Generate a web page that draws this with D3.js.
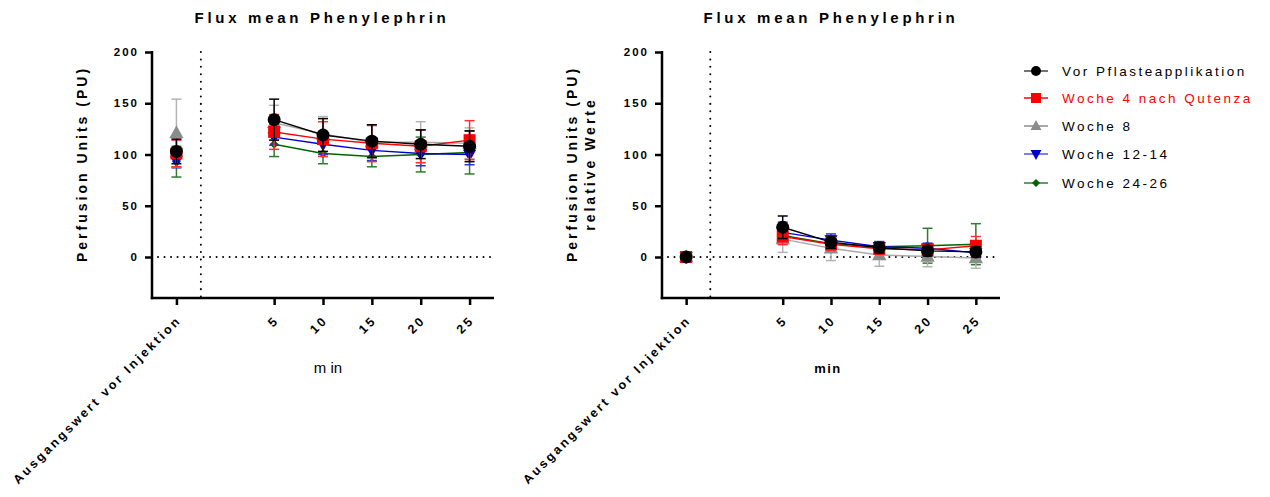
<!DOCTYPE html>
<html><head><meta charset="utf-8">
<script src="https://cdn.jsdelivr.net/npm/d3@7/dist/d3.min.js"></script>
<style>
body{margin:0;background:#fff;}
text{font-family:"Liberation Sans",Arial,sans-serif;}
</style></head>
<body><svg id="c" width="1270" height="497"></svg>
<script>
// ---- data ----
const xValues = [-5, 5, 10, 15, 20, 25];
const xLabels = ["Ausgangswert vor Injektion", "5", "10", "15", "20", "25"];
const yTicks = [0, 50, 100, 150, 200];
const seriesNames = ["Vor Pflasteapplikation", "Woche 4 nach Qutenza", "Woche 8", "Woche 12-14", "Woche 24-26"];
const seriesColors = ["#000000", "#ff0000", "#8c8c8c", "#0000cc", "#006400"];
const errColors = ["#000000", "#ff3030", "#b4b4b4", "#3030dd", "#2e7d2e"];
const seriesSymbols = ["circle", "square", "triangle", "triangleDown", "diamond"];

// Left chart: absolute values (mean) and SD
const absMean = [
  [103, 134, 119, 113, 110, 108],
  [101, 122, 115, 111, 108, 114],
  [121, 131, 120, 112, 112, 111],
  [94, 117, 110, 104, 101, 100],
  [93, 110, 101, 98, 100, 102]
];
const absSD = [
  [12, 20, 16, 16, 14, 15],
  [13, 17, 17, 18, 16, 19],
  [33, 17, 17, 16, 20, 15],
  [7, 8, 10, 10, 12, 10],
  [15, 12, 10, 10, 17, 21]
];
// Right chart: relative values
const relMean = [
  [0, 29, 14.5, 9, 6, 5],
  [0, 20, 12.5, 8, 7, 11],
  [0, 17.5, 8.5, 2, 0.5, -1],
  [0, 24, 16.5, 10, 8.5, 4],
  [0, 21, 13, 10, 11, 12.5]
];
const relSD = [
  [0, 11, 6, 5, 5, 5],
  [0, 8, 6, 5, 5, 9],
  [0, 13, 12, 11, 10, 10],
  [0, 10, 6, 5, 5, 5],
  [0, 8, 6, 5, 17, 20]
];

const svg = d3.select("#c");

function symbolPath(type, size) {
  const s = size;
  if (type === "circle") return d3.symbol(d3.symbolCircle, s * s * Math.PI / 4)();
  if (type === "square") return d3.symbol(d3.symbolSquare, s * s)();
  if (type === "diamond") return `M0,${-s/2}L${s/2},0L0,${s/2}L${-s/2},0Z`;
  if (type === "triangle") return `M0,${-s*0.6}L${s*0.55},${s*0.4}L${-s*0.55},${s*0.4}Z`;
  if (type === "triangleDown") return `M0,${s*0.6}L${s*0.55},${-s*0.4}L${-s*0.55},${-s*0.4}Z`;
}
const symSize = {circle: 13, square: 12, triangle: 13, triangleDown: 12, diamond: 9};

function drawChart(opt) {
  const g = svg.append("g");
  const x = d3.scaleLinear().domain([-7.5, 27.5]).range([opt.x0, opt.x1]);
  const y = d3.scaleLinear().domain([-40, 200]).range([298, 52]);

  // dotted reference lines
  g.append("line").attr("x1", x(-7.5) + 6).attr("x2", x(27.5)).attr("y1", y(0)).attr("y2", y(0))
    .attr("stroke", "#000").attr("stroke-width", 2).attr("stroke-dasharray", "0.01,6.5").attr("stroke-linecap", "round");
  g.append("line").attr("x1", x(-2.5)).attr("x2", x(-2.5)).attr("y1", y(200)).attr("y2", y(-40))
    .attr("stroke", "#000").attr("stroke-width", 2).attr("stroke-dasharray", "0.01,7.4").attr("stroke-linecap", "round");

  // y axis
  const ya = g.append("g").attr("transform", `translate(${opt.x0},0)`)
    .call(d3.axisLeft(y).tickValues(yTicks).tickSize(7).tickSizeOuter(0).tickPadding(6));
  ya.select(".domain").attr("stroke-width", 2.5).attr("d", `M0,${y(200) - 1}V${y(-40) + 1.25}`);
  ya.selectAll(".tick line").attr("stroke-width", 2.5);
  ya.selectAll(".tick text").attr("font-size", 11.5).attr("font-weight", "bold")
    .attr("letter-spacing", "2px").attr("font-family", "Liberation Sans, Arial, sans-serif").attr("fill", "#000");

  // x axis
  const xa = g.append("g").attr("transform", `translate(0,298)`)
    .call(d3.axisBottom(x).tickValues(xValues).tickSize(7).tickSizeOuter(0).tickFormat((d, i) => xLabels[i]));
  xa.select(".domain").attr("stroke-width", 2.5).attr("d", `M${opt.x0 - 1.25},0H${opt.x1}`);
  xa.selectAll(".tick line").attr("stroke-width", 2.5);
  xa.selectAll(".tick text").attr("font-size", 12.5).attr("font-weight", "bold")
    .attr("letter-spacing", "2.6px").attr("font-family", "Liberation Sans, Arial, sans-serif").attr("fill", "#000")
    .attr("text-anchor", "end").attr("dy", null).attr("y", 0)
    .attr("transform", "translate(5,23) rotate(-45)");

  // series (draw last series first so black is on top)
  for (let si = seriesNames.length - 1; si >= 0; si--) {
    const mean = opt.mean[si], sd = opt.sd[si];
    const pts = xValues.map((xv, i) => ({x: xv, y: mean[i], sd: sd[i]}));
    const sg = g.append("g");
    // error bars
    pts.forEach(p => {
      if (p.sd <= 0) return;
      const cx = x(p.x);
      sg.append("line").attr("x1", cx).attr("x2", cx).attr("y1", y(p.y + p.sd)).attr("y2", y(p.y - p.sd))
        .attr("stroke", errColors[si]).attr("stroke-width", 1.5);
      [p.y + p.sd, p.y - p.sd].forEach(v => {
        sg.append("line").attr("x1", cx - 5).attr("x2", cx + 5).attr("y1", y(v)).attr("y2", y(v))
          .attr("stroke", errColors[si]).attr("stroke-width", 1.5);
      });
    });
    // connecting line (time points only)
    const line = d3.line().x(d => x(d.x)).y(d => y(d.y));
    sg.append("path").datum(pts.slice(1)).attr("d", line).attr("fill", "none")
      .attr("stroke", si === 2 ? "#aaaaaa" : seriesColors[si]).attr("stroke-width", 1.4);
    // markers
    pts.forEach(p => {
      sg.append("path").attr("d", symbolPath(seriesSymbols[si], symSize[seriesSymbols[si]]))
        .attr("transform", `translate(${x(p.x)},${y(p.y)})`).attr("fill", seriesColors[si]);
    });
  }

  // titles
  g.append("text").attr("x", opt.titleX).attr("y", 23).attr("text-anchor", "middle")
    .attr("font-size", 15).attr("font-weight", "bold").attr("letter-spacing", "3.7px").text("Flux mean Phenylephrin");
  opt.yTitle.forEach((t, i) => {
    g.append("text").attr("transform", `translate(${opt.yTitleX + i * 18},164) rotate(-90)`).attr("text-anchor", "middle")
      .attr("font-size", 14).attr("font-weight", "bold").attr("letter-spacing", "3px").text(t);
  });
  g.append("text").attr("x", opt.minX).attr("y", 373).attr("text-anchor", "middle")
    .attr("font-size", opt.minBold ? 13 : 15).attr("font-weight", opt.minBold ? "bold" : "normal")
    .attr("letter-spacing", opt.minBold ? "1.5px" : "0px").text(opt.minText);
}

drawChart({x0: 152, x1: 494, mean: absMean, sd: absSD, titleX: 322, yTitle: ["Perfusion Units (PU)"], yTitleX: 87,
  minX: 328, minText: "m in", minBold: false});
drawChart({x0: 662, x1: 1000, mean: relMean, sd: relSD, titleX: 831, yTitle: ["Perfusion Units (PU)", "relative Werte"], yTitleX: 577,
  minX: 828, minText: "min", minBold: true});

// legend
const legY = [71, 98, 126, 154, 183];
const leg = svg.append("g");
const legLineColors = ["#444444", "#ff0000", "#8c8c8c", "#5555ee", "#2e7d2e"];
seriesNames.forEach((n, i) => {
  const gy = legY[i];
  leg.append("line").attr("x1", 1024).attr("x2", 1048).attr("y1", gy).attr("y2", gy)
    .attr("stroke", legLineColors[i]).attr("stroke-width", 1.5);
  const s = seriesSymbols[i];
  const sz = s === "circle" ? 10 : s === "diamond" ? 8 : 10;
  leg.append("path").attr("d", symbolPath(s, sz)).attr("transform", `translate(1036,${gy})`).attr("fill", seriesColors[i]);
  leg.append("text").attr("x", 1062).attr("y", gy + 5).attr("font-size", 13.5).attr("letter-spacing", "2.5px")
    .attr("fill", i === 1 ? "#ff0000" : "#000").text(n);
});
</script>
</body></html>
